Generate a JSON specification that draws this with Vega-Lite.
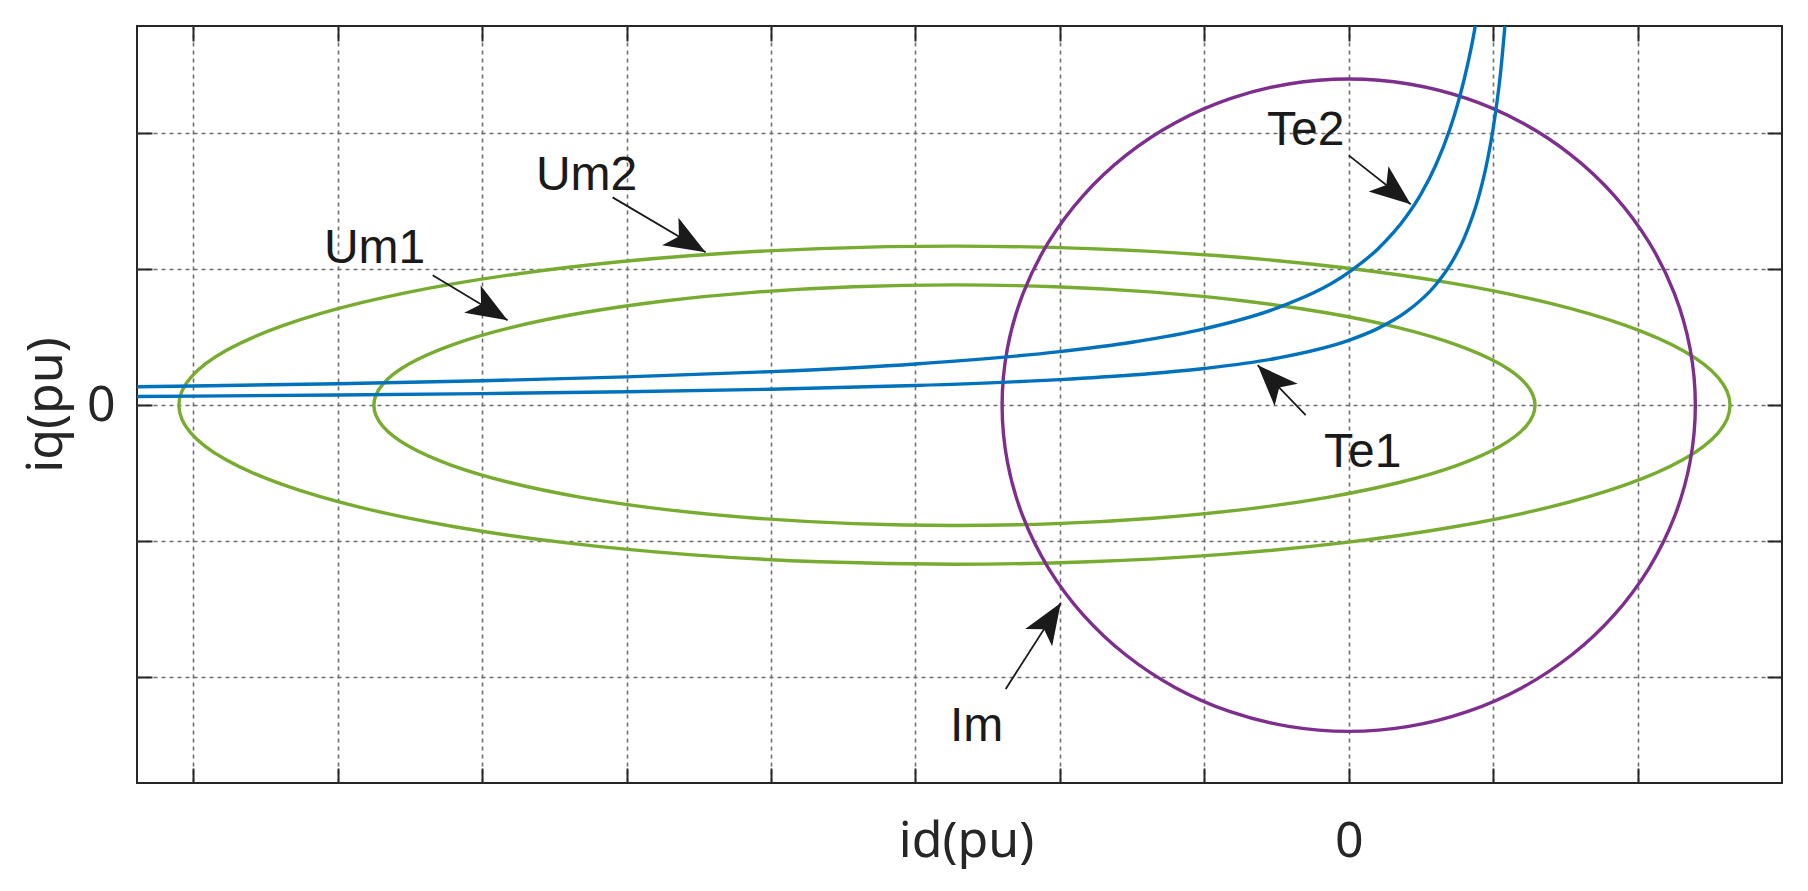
{
  "$schema": "https://vega.github.io/schema/vega-lite/v6.json",
  "width": 1645,
  "height": 757,
  "autosize": {"type": "none"},
  "padding": {"left": 137, "top": 26, "right": 26, "bottom": 108},
  "background": "white",
  "config": {"view": {"stroke": "#262626", "strokeWidth": 2}},
  "datasets": {
    "closed": [
      {"curve":"Um1","k":0,"x":1.29,"y":0},{"curve":"Um1","k":1,"x":1.2289,"y":0.1536},{"curve":"Um1","k":2,"x":1.0476,"y":0.3027},{"curve":"Um1","k":3,"x":0.7513,"y":0.4425},{"curve":"Um1","k":4,"x":0.3493,"y":0.5689},{"curve":"Um1","k":5,"x":-0.1459,"y":0.6779},{"curve":"Um1","k":6,"x":-0.72,"y":0.7664},{"curve":"Um1","k":7,"x":-1.3552,"y":0.8316},{"curve":"Um1","k":8,"x":-2.0321,"y":0.8715},{"curve":"Um1","k":9,"x":-2.73,"y":0.885},{"curve":"Um1","k":10,"x":-3.4279,"y":0.8715},{"curve":"Um1","k":11,"x":-4.1048,"y":0.8316},{"curve":"Um1","k":12,"x":-4.74,"y":0.7664},{"curve":"Um1","k":13,"x":-5.3141,"y":0.6779},{"curve":"Um1","k":14,"x":-5.8093,"y":0.5689},{"curve":"Um1","k":15,"x":-6.2113,"y":0.4425},{"curve":"Um1","k":16,"x":-6.5076,"y":0.3027},{"curve":"Um1","k":17,"x":-6.6889,"y":0.1536},{"curve":"Um1","k":18,"x":-6.75,"y":0},{"curve":"Um1","k":19,"x":-6.6889,"y":-0.1536},{"curve":"Um1","k":20,"x":-6.5076,"y":-0.3027},{"curve":"Um1","k":21,"x":-6.2113,"y":-0.4425},{"curve":"Um1","k":22,"x":-5.8093,"y":-0.5689},{"curve":"Um1","k":23,"x":-5.3141,"y":-0.6779},{"curve":"Um1","k":24,"x":-4.74,"y":-0.7664},{"curve":"Um1","k":25,"x":-4.1048,"y":-0.8316},{"curve":"Um1","k":26,"x":-3.4279,"y":-0.8715},{"curve":"Um1","k":27,"x":-2.73,"y":-0.885},{"curve":"Um1","k":28,"x":-2.0321,"y":-0.8715},{"curve":"Um1","k":29,"x":-1.3552,"y":-0.8316},{"curve":"Um1","k":30,"x":-0.72,"y":-0.7664},{"curve":"Um1","k":31,"x":-0.1459,"y":-0.6779},{"curve":"Um1","k":32,"x":0.3493,"y":-0.5689},{"curve":"Um1","k":33,"x":0.7513,"y":-0.4425},{"curve":"Um1","k":34,"x":1.0476,"y":-0.3027},{"curve":"Um1","k":35,"x":1.2289,"y":-0.1536},
      {"curve":"Um2","k":0,"x":2.64,"y":0},{"curve":"Um2","k":1,"x":2.5584,"y":0.2031},{"curve":"Um2","k":2,"x":2.3162,"y":0.4001},{"curve":"Um2","k":3,"x":1.9204,"y":0.585},{"curve":"Um2","k":4,"x":1.3834,"y":0.7521},{"curve":"Um2","k":5,"x":0.7218,"y":0.8962},{"curve":"Um2","k":6,"x":-0.045,"y":1.0132},{"curve":"Um2","k":7,"x":-0.8935,"y":1.0994},{"curve":"Um2","k":8,"x":-1.7978,"y":1.1522},{"curve":"Um2","k":9,"x":-2.73,"y":1.17},{"curve":"Um2","k":10,"x":-3.6622,"y":1.1522},{"curve":"Um2","k":11,"x":-4.5665,"y":1.0994},{"curve":"Um2","k":12,"x":-5.415,"y":1.0132},{"curve":"Um2","k":13,"x":-6.1818,"y":0.8962},{"curve":"Um2","k":14,"x":-6.8434,"y":0.7521},{"curve":"Um2","k":15,"x":-7.3804,"y":0.585},{"curve":"Um2","k":16,"x":-7.7762,"y":0.4001},{"curve":"Um2","k":17,"x":-8.0184,"y":0.2031},{"curve":"Um2","k":18,"x":-8.1,"y":0},{"curve":"Um2","k":19,"x":-8.0184,"y":-0.2031},{"curve":"Um2","k":20,"x":-7.7762,"y":-0.4001},{"curve":"Um2","k":21,"x":-7.3804,"y":-0.585},{"curve":"Um2","k":22,"x":-6.8434,"y":-0.7521},{"curve":"Um2","k":23,"x":-6.1818,"y":-0.8962},{"curve":"Um2","k":24,"x":-5.415,"y":-1.0132},{"curve":"Um2","k":25,"x":-4.5665,"y":-1.0994},{"curve":"Um2","k":26,"x":-3.6622,"y":-1.1522},{"curve":"Um2","k":27,"x":-2.73,"y":-1.17},{"curve":"Um2","k":28,"x":-1.7978,"y":-1.1522},{"curve":"Um2","k":29,"x":-0.8935,"y":-1.0994},{"curve":"Um2","k":30,"x":-0.045,"y":-1.0132},{"curve":"Um2","k":31,"x":0.7218,"y":-0.8962},{"curve":"Um2","k":32,"x":1.3834,"y":-0.7521},{"curve":"Um2","k":33,"x":1.9204,"y":-0.585},{"curve":"Um2","k":34,"x":2.3162,"y":-0.4001},{"curve":"Um2","k":35,"x":2.5584,"y":-0.2031},
      {"curve":"Im","k":0,"x":2.4,"y":0},{"curve":"Im","k":1,"x":2.3635,"y":0.4166},{"curve":"Im","k":2,"x":2.2553,"y":0.8208},{"curve":"Im","k":3,"x":2.0785,"y":1.2},{"curve":"Im","k":4,"x":1.8384,"y":1.5427},{"curve":"Im","k":5,"x":1.5427,"y":1.8384},{"curve":"Im","k":6,"x":1.2,"y":2.0785},{"curve":"Im","k":7,"x":0.8208,"y":2.2553},{"curve":"Im","k":8,"x":0.4166,"y":2.3635},{"curve":"Im","k":9,"x":0,"y":2.4},{"curve":"Im","k":10,"x":-0.4166,"y":2.3635},{"curve":"Im","k":11,"x":-0.8208,"y":2.2553},{"curve":"Im","k":12,"x":-1.2,"y":2.0785},{"curve":"Im","k":13,"x":-1.5427,"y":1.8384},{"curve":"Im","k":14,"x":-1.8384,"y":1.5427},{"curve":"Im","k":15,"x":-2.0785,"y":1.2},{"curve":"Im","k":16,"x":-2.2553,"y":0.8208},{"curve":"Im","k":17,"x":-2.3635,"y":0.4166},{"curve":"Im","k":18,"x":-2.4,"y":0},{"curve":"Im","k":19,"x":-2.3635,"y":-0.4166},{"curve":"Im","k":20,"x":-2.2553,"y":-0.8208},{"curve":"Im","k":21,"x":-2.0785,"y":-1.2},{"curve":"Im","k":22,"x":-1.8384,"y":-1.5427},{"curve":"Im","k":23,"x":-1.5427,"y":-1.8384},{"curve":"Im","k":24,"x":-1.2,"y":-2.0785},{"curve":"Im","k":25,"x":-0.8208,"y":-2.2553},{"curve":"Im","k":26,"x":-0.4166,"y":-2.3635},{"curve":"Im","k":27,"x":0,"y":-2.4},{"curve":"Im","k":28,"x":0.4166,"y":-2.3635},{"curve":"Im","k":29,"x":0.8208,"y":-2.2553},{"curve":"Im","k":30,"x":1.2,"y":-2.0785},{"curve":"Im","k":31,"x":1.5427,"y":-1.8384},{"curve":"Im","k":32,"x":1.8384,"y":-1.5427},{"curve":"Im","k":33,"x":2.0785,"y":-1.2},{"curve":"Im","k":34,"x":2.2553,"y":-0.8208},{"curve":"Im","k":35,"x":2.3635,"y":-0.4166}
    ],
    "te": [
      {"curve":"Te2","x":-8.5,"y":0.134},{"curve":"Te2","x":-8,"y":0.1412},{"curve":"Te2","x":-7,"y":0.1581},{"curve":"Te2","x":-6,"y":0.1796},{"curve":"Te2","x":-5,"y":0.2079},{"curve":"Te2","x":-4,"y":0.2467},{"curve":"Te2","x":-3,"y":0.3034},{"curve":"Te2","x":-2,"y":0.394},{"curve":"Te2","x":-1.5,"y":0.4632},{"curve":"Te2","x":-1,"y":0.5617},{"curve":"Te2","x":-0.5,"y":0.7135},{"curve":"Te2","x":0,"y":0.9778},{"curve":"Te2","x":0.2,"y":1.1478},{"curve":"Te2","x":0.4,"y":1.3895},{"curve":"Te2","x":0.5,"y":1.5529},{"curve":"Te2","x":0.6,"y":1.76},{"curve":"Te2","x":0.7,"y":2.0308},{"curve":"Te2","x":0.75,"y":2.2},{"curve":"Te2","x":0.8,"y":2.4},{"curve":"Te2","x":0.85,"y":2.64},{"curve":"Te2","x":0.9,"y":2.9333},
      {"curve":"Te1","x":-8.5,"y":0.0635},{"curve":"Te1","x":-8,"y":0.0669},{"curve":"Te1","x":-7,"y":0.075},{"curve":"Te1","x":-6,"y":0.0853},{"curve":"Te1","x":-5,"y":0.0988},{"curve":"Te1","x":-4,"y":0.1174},{"curve":"Te1","x":-3,"y":0.1447},{"curve":"Te1","x":-2,"y":0.1884},{"curve":"Te1","x":-1.5,"y":0.222},{"curve":"Te1","x":-1,"y":0.2702},{"curve":"Te1","x":-0.5,"y":0.345},{"curve":"Te1","x":0,"y":0.477},{"curve":"Te1","x":0.2,"y":0.5633},{"curve":"Te1","x":0.4,"y":0.6876},{"curve":"Te1","x":0.6,"y":0.8824},{"curve":"Te1","x":0.7,"y":1.0281},{"curve":"Te1","x":0.8,"y":1.2312},{"curve":"Te1","x":0.9,"y":1.5345},{"curve":"Te1","x":0.95,"y":1.75},{"curve":"Te1","x":1.0,"y":2.0359},{"curve":"Te1","x":1.05,"y":2.4336},{"curve":"Te1","x":1.1,"y":3.0243}
    ],
    "notes": [
      {"label":"Um2","tx":-5.277,"ty":1.581,"ax":-5.097,"ay":1.529,"hx":-4.453,"hy":1.125},
      {"label":"Um1","tx":-6.745,"ty":1.044,"ax":-6.343,"ay":0.956,"hx":-5.824,"hy":0.625},
      {"label":"Te2","tx":-0.298,"ty":1.912,"ax":0.0,"ay":1.838,"hx":0.429,"hy":1.478},
      {"label":"Te1","tx":0.097,"ty":-0.456,"ax":-0.298,"ay":-0.074,"hx":-0.63,"hy":0.294},
      {"label":"Im","tx":-2.576,"ty":-2.471,"ax":-2.375,"ay":-2.088,"hx":-1.994,"hy":-1.456}
    ]
  },
  "resolve": {"axis": {"x": "independent", "y": "independent"}},
  "layer": [
    {
      "data": {"name": "closed"},
      "mark": {"type": "line", "strokeWidth": 3.4, "interpolate": "cardinal-closed", "clip": true},
      "encoding": {
        "x": {"field": "x", "type": "quantitative", "scale": {"domain": [-8.39, 3.0], "nice": false, "zero": false},
          "axis": {"orient": "bottom", "values": [-8,-7,-6,-5,-4,-3,-2,-1,0,1,2], "labelExpr": "datum.value == 0 ? '0' : ''",
            "tickSize": -15, "tickWidth": 2, "tickColor": "#262626", "domain": false,
            "grid": true, "gridDash": [4, 4], "gridColor": "#6e6e6e", "gridWidth": 1.6, "gridOpacity": 1,
            "labelFont": "Noto Sans", "labelFontSize": 50, "labelColor": "#262626", "labelPadding": 88, "labelBaseline": "alphabetic",
            "labelOverlap": false, "labelFlush": false, "labelBound": false,
            "title": "id(pu)", "titleFont": "Noto Sans", "titleFontSize": 50, "titleFontWeight": "normal", "titleColor": "#262626",
            "titleBaseline": "alphabetic", "titleAlign": "center", "titleY": 73, "titleX": 829}},
        "y": {"field": "y", "type": "quantitative", "scale": {"domain": [-2.78, 2.79], "nice": false, "zero": false},
          "axis": {"orient": "left", "values": [-2,-1,0,1,2], "labelExpr": "datum.value == 0 ? '0' : ''",
            "tickSize": -15, "tickWidth": 2, "tickColor": "#262626", "domain": false,
            "grid": true, "gridDash": [4, 4], "gridColor": "#6e6e6e", "gridWidth": 1.6, "gridOpacity": 1,
            "labelFont": "Noto Sans", "labelFontSize": 50, "labelColor": "#262626", "labelPadding": 37, "labelBaseline": "middle", "labelAlign": "right",
            "labelOverlap": false, "labelFlush": false, "labelBound": false,
            "title": "iq(pu)", "titleFont": "Noto Sans", "titleFontSize": 50, "titleFontWeight": "normal", "titleColor": "#262626",
            "titleBaseline": "alphabetic", "titleAlign": "center", "titleX": -76}},
        "order": {"field": "k", "type": "quantitative"},
        "detail": {"field": "curve", "type": "nominal"},
        "color": {"field": "curve", "type": "nominal", "scale": {"domain": ["Um1", "Um2", "Im"], "range": ["#77AC30", "#77AC30", "#7E2F8E"]}, "legend": null}
      }
    },
    {
      "data": {"name": "te"},
      "mark": {"type": "line", "strokeWidth": 3.4, "interpolate": "monotone", "clip": true, "color": "#0072BD"},
      "encoding": {
        "x": {"field": "x", "type": "quantitative",
          "axis": {"orient": "top", "values": [-8,-7,-6,-5,-4,-3,-2,-1,0,1,2], "labels": false, "tickSize": -15, "tickWidth": 2, "tickColor": "#262626", "domain": false, "grid": false, "title": null}},
        "y": {"field": "y", "type": "quantitative",
          "axis": {"orient": "right", "values": [-2,-1,0,1,2], "labels": false, "tickSize": -15, "tickWidth": 2, "tickColor": "#262626", "domain": false, "grid": false, "title": null}},
        "detail": {"field": "curve", "type": "nominal"}
      }
    },
    {
      "data": {"name": "notes"},
      "mark": {"type": "rule", "color": "#1a1a1a", "strokeWidth": 1.8},
      "encoding": {
        "x": {"field": "ax", "type": "quantitative", "axis": null},
        "y": {"field": "ay", "type": "quantitative", "axis": null},
        "x2": {"field": "hx"},
        "y2": {"field": "hy"}
      }
    },
    {
      "data": {"name": "notes"},
      "mark": {"type": "text", "font": "Liberation Sans", "fontSize": 48, "align": "center", "baseline": "alphabetic", "color": "#1a1a1a"},
      "encoding": {
        "x": {"field": "tx", "type": "quantitative", "axis": null},
        "y": {"field": "ty", "type": "quantitative", "axis": null},
        "text": {"field": "label"}
      }
    },
    {
      "data": {"name": "notes"},
      "transform": [{"filter": "datum.label == 'Um2'"}],
      "mark": {"type": "point", "shape": "M0,0L-0.8,2.05L0,1.55L0.8,2.05Z", "filled": true, "color": "#1a1a1a", "opacity": 1, "size": 1600, "angle": 120.6},
      "encoding": {"x": {"field": "hx", "type": "quantitative", "axis": null}, "y": {"field": "hy", "type": "quantitative", "axis": null}}
    },
    {
      "data": {"name": "notes"},
      "transform": [{"filter": "datum.label == 'Um1'"}],
      "mark": {"type": "point", "shape": "M0,0L-0.8,2.05L0,1.55L0.8,2.05Z", "filled": true, "color": "#1a1a1a", "opacity": 1, "size": 1600, "angle": 121},
      "encoding": {"x": {"field": "hx", "type": "quantitative", "axis": null}, "y": {"field": "hy", "type": "quantitative", "axis": null}}
    },
    {
      "data": {"name": "notes"},
      "transform": [{"filter": "datum.label == 'Te2'"}],
      "mark": {"type": "point", "shape": "M0,0L-0.8,2.05L0,1.55L0.8,2.05Z", "filled": true, "color": "#1a1a1a", "opacity": 1, "size": 1600, "angle": 128.3},
      "encoding": {"x": {"field": "hx", "type": "quantitative", "axis": null}, "y": {"field": "hy", "type": "quantitative", "axis": null}}
    },
    {
      "data": {"name": "notes"},
      "transform": [{"filter": "datum.label == 'Te1'"}],
      "mark": {"type": "point", "shape": "M0,0L-0.8,2.05L0,1.55L0.8,2.05Z", "filled": true, "color": "#1a1a1a", "opacity": 1, "size": 1600, "angle": 316.2},
      "encoding": {"x": {"field": "hx", "type": "quantitative", "axis": null}, "y": {"field": "hy", "type": "quantitative", "axis": null}}
    },
    {
      "data": {"name": "notes"},
      "transform": [{"filter": "datum.label == 'Im'"}],
      "mark": {"type": "point", "shape": "M0,0L-0.8,2.05L0,1.55L0.8,2.05Z", "filled": true, "color": "#1a1a1a", "opacity": 1, "size": 1600, "angle": 32.6},
      "encoding": {"x": {"field": "hx", "type": "quantitative", "axis": null}, "y": {"field": "hy", "type": "quantitative", "axis": null}}
    }
  ]
}
